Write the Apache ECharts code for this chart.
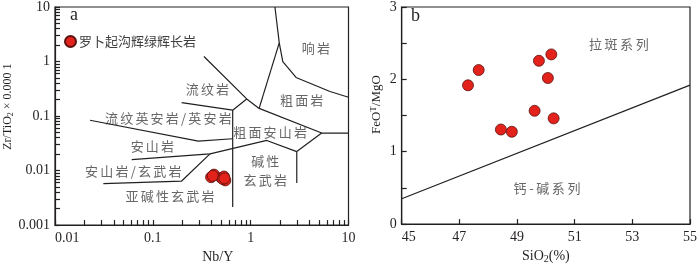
<!DOCTYPE html>
<html><head><meta charset="utf-8">
<script src="https://cdn.jsdelivr.net/npm/echarts@6/dist/echarts.min.js"></script>
<style>html,body{margin:0;padding:0;background:#fff}#c{width:700px;height:269px}</style>
</head><body><div id="c"></div>
<script>
// ---------- Panel a : Zr/TiO2 vs Nb/Y (log-log) ----------
const xTickLabelsA = ['0.01', '0.1', '1', '10'];
const yTickLabelsA = ['0.001', '0.01', '0.1', '1', '10'];

const legendName = '罗卜起沟辉绿辉长岩';
const sampleNbY  = [0.394, 0.422, 0.501, 0.534, 0.551, 0.410, 0.520, 0.540];
const sampleZrTi = [0.00757, 0.00843, 0.00735, 0.00778, 0.00660, 0.00800, 0.00700, 0.00720];

const bndA = [[1.77, 10], [1.96, 2.2], [2.13, 1.0], [2.91, 0.51], [6.47, 0.282], [10, 0.221]];
const bndB = [[1.96, 2.2], [1.22, 0.138]];
const bndC = [[0.333, 1.235], [0.911, 0.206], [1.22, 0.138]];
const bndD = [[0.911, 0.206], [0.655, 0.128], [0.655, 0.00215]];
const bndE = [[1.22, 0.138], [5.32, 0.0488], [10, 0.0488]];
const bndF = [[5.32, 0.0488], [2.96, 0.0223], [2.96, 0.00593]];
const bndG = [[0.0608, 0.0159], [0.384, 0.0202], [1.46, 0.0357], [2.96, 0.0223]];
const bndH = [[0.0312, 0.00576], [0.197, 0.00643], [0.384, 0.0202]];
const bndI = [[0.0228, 0.0837], [0.292, 0.0348], [0.655, 0.0383]];
const bndJ = [[0.197, 0.176], [0.655, 0.128]];
const boundariesA = [bndA, bndB, bndC, bndD, bndE, bndF, bndG, bndH, bndI, bndJ];

const fieldNamesA = ['响岩', '流纹岩', '粗面岩', '流纹英安岩/英安岩', '粗面安山岩', '安山岩', '碱性\n玄武岩', '安山岩/玄武岩', '亚碱性玄武岩'];
const fieldXA = [4.65, 0.361, 3.32, 0.144, 1.58, 0.0989, 1.41, 0.0631, 0.1498];
const fieldYA = [1.80, 0.311, 0.199, 0.0923, 0.0502, 0.028, 0.0099, 0.0099, 0.00346];

// ---------- Panel b : FeOT/MgO vs SiO2 ----------
const sio2   = [47.30, 47.67, 49.76, 50.19, 50.07, 49.61, 50.27, 48.44, 48.82];
const feoMgo = [1.918, 2.129, 2.257, 2.345, 2.019, 1.566, 1.461, 1.307, 1.276];
const dividerB = [[45, 0.35], [55, 1.92]];
const fieldNamesB = ['拉斑系列', '钙-碱系列'];
const fieldXB = [52.53, 50.04];
const fieldYB = [2.485, 0.492];

// ---------- styles ----------
const INK = '#231f20';
const TXT = '#404040';
const LAT = "'Liberation Serif','Noto Sans CJK SC'";
const CJK = "'Noto Sans CJK SC'";
const RED = '#e3231b';

function spaced(str) {
  return str.split('\n').map(line => Array.from(line).map(ch => '{c|' + ch + '}').join('')).join('\n');
}

const series = [];
boundariesA.forEach(b => series.push({
  type: 'line', xAxisIndex: 0, yAxisIndex: 0, data: b, symbol: 'none', silent: true,
  lineStyle: { color: INK, width: 1.2 }, z: 3
}));
const cjkLabel = (size, gap) => ({
  show: true, position: 'inside', formatter: p => spaced(p.data[2]),
  color: TXT, align: 'center', lineHeight: 19,
  rich: { c: { fontFamily: CJK, fontSize: size, color: TXT, padding: [0, gap, 0, gap], lineHeight: 19 } }
});
series.push({
  type: 'scatter', xAxisIndex: 0, yAxisIndex: 0, silent: true, symbolSize: 0,
  data: fieldNamesA.map((n, i) => [fieldXA[i], fieldYA[i], n]),
  label: cjkLabel(13, 1.1)
});
series.push({
  name: legendName, type: 'scatter', xAxisIndex: 0, yAxisIndex: 0,
  data: sampleNbY.map((v, i) => [v, sampleZrTi[i]]),
  symbolSize: 11, itemStyle: { color: RED, borderColor: '#5a1210', borderWidth: 0.8, opacity: 1 }, z: 6
});
series.push({
  type: 'line', xAxisIndex: 1, yAxisIndex: 1, data: dividerB, symbol: 'none', silent: true,
  lineStyle: { color: INK, width: 1.2 }
});
series.push({
  type: 'scatter', xAxisIndex: 1, yAxisIndex: 1, silent: true, symbolSize: 0,
  data: fieldNamesB.map((n, i) => [fieldXB[i], fieldYB[i], n]),
  label: cjkLabel(13, 1.3)
});
series.push({
  type: 'scatter', xAxisIndex: 1, yAxisIndex: 1,
  data: sio2.map((v, i) => [v, feoMgo[i]]),
  symbolSize: 11, itemStyle: { color: RED, borderColor: '#5a1210', borderWidth: 0.8, opacity: 1 }, z: 6
});

const subRich = (fs) => ({
  s: { fontFamily: LAT, fontSize: fs - 4, color: INK, padding: [6, 0, 0, 0] },
  t: { fontFamily: LAT, fontSize: fs - 4, color: INK, padding: [0, 0, 6, 0] }
});
const tickStyle = { show: true, inside: true, length: 5, lineStyle: { color: INK, width: 1.2 } };
const minorStyle = { show: true, splitNumber: 9, length: 5, lineStyle: { color: INK, width: 1.2 } };

const option = {
  animation: false,
  backgroundColor: '#fff',
  grid: [
    { left: 55, top: 3, width: 293.5, height: 227, show: true, borderColor: INK, borderWidth: 1.2 },
    { left: 401.7, top: 3, width: 294.3, height: 227, show: true, borderColor: INK, borderWidth: 1.2 }
  ],
  legend: {
    data: [legendName], left: 59, top: 30, icon: 'circle', itemWidth: 11, itemHeight: 11, itemGap: 0,
    textStyle: { fontFamily: CJK, fontSize: 13, color: TXT, padding: [0, 0, 0, -2] }
  },
  xAxis: [
    { type: 'log', logBase: 10, gridIndex: 0, min: 0.01, max: 10,
      name: 'Nb/Y', nameLocation: 'middle', nameGap: 21,
      nameTextStyle: { fontFamily: LAT, fontSize: 14, color: INK, padding: [0, 0, 0, 32] },
      axisLine: { show: true, lineStyle: { color: INK, width: 1.2 } },
      axisTick: tickStyle, minorTick: minorStyle, splitLine: { show: false }, minorSplitLine: { show: false },
      axisLabel: { fontFamily: LAT, fontSize: 14, color: INK, margin: 6, alignMinLabel: 'left',
                   formatter: v => xTickLabelsA[Math.round(Math.log10(v)) + 2] } },
    { type: 'value', gridIndex: 1, min: 45, max: 55, interval: 2,
      name: 'SiO{s|2}(%)', nameLocation: 'middle', nameGap: 16,
      nameTextStyle: { fontFamily: LAT, fontSize: 14, color: INK, rich: subRich(14) },
      axisLine: { show: true, lineStyle: { color: INK, width: 1.2 } },
      axisTick: tickStyle, splitLine: { show: false },
      axisLabel: { fontFamily: LAT, fontSize: 14, color: INK, margin: 6, alignMinLabel: 'left' } }
  ],
  yAxis: [
    { type: 'log', logBase: 10, gridIndex: 0, min: 0.001, max: 10,
      name: 'Zr/TiO{s|2} × 0.000 1', nameLocation: 'middle', nameGap: 38,
      nameTextStyle: { fontFamily: LAT, fontSize: 12, color: INK, rich: subRich(12), padding: [0, 0, 0, 19] },
      axisLine: { show: true, lineStyle: { color: INK, width: 1.2 } },
      axisTick: tickStyle, minorTick: minorStyle, splitLine: { show: false }, minorSplitLine: { show: false },
      axisLabel: { fontFamily: LAT, fontSize: 14, color: INK, margin: 5,
                   formatter: v => yTickLabelsA[Math.round(Math.log10(v)) + 3] } },
    { type: 'value', gridIndex: 1, min: 0, max: 3, interval: 0.5,
      name: 'FeO{t|T}/MgO', nameLocation: 'middle', nameGap: 18,
      nameTextStyle: { fontFamily: LAT, fontSize: 13, color: INK, rich: subRich(13), padding: [0, 0, 0, 22] },
      axisLine: { show: true, lineStyle: { color: INK, width: 1.2 } },
      axisTick: tickStyle, splitLine: { show: false },
      axisLabel: { fontFamily: LAT, fontSize: 14, color: INK, margin: 5,
                   formatter: v => (Number.isInteger(v) ? String(v) : '') } }
  ],
  graphic: [
    { type: 'text', left: 70, top: 6, style: { text: 'a', font: "18px 'Liberation Serif'", fill: INK } },
    { type: 'text', left: 411, top: 7, style: { text: 'b', font: "18px 'Liberation Serif'", fill: INK } }
  ],
  series: series
};

const chart = echarts.init(document.getElementById('c'), null, { renderer: 'canvas' });
chart.setOption(option);
</script>
</body></html>
